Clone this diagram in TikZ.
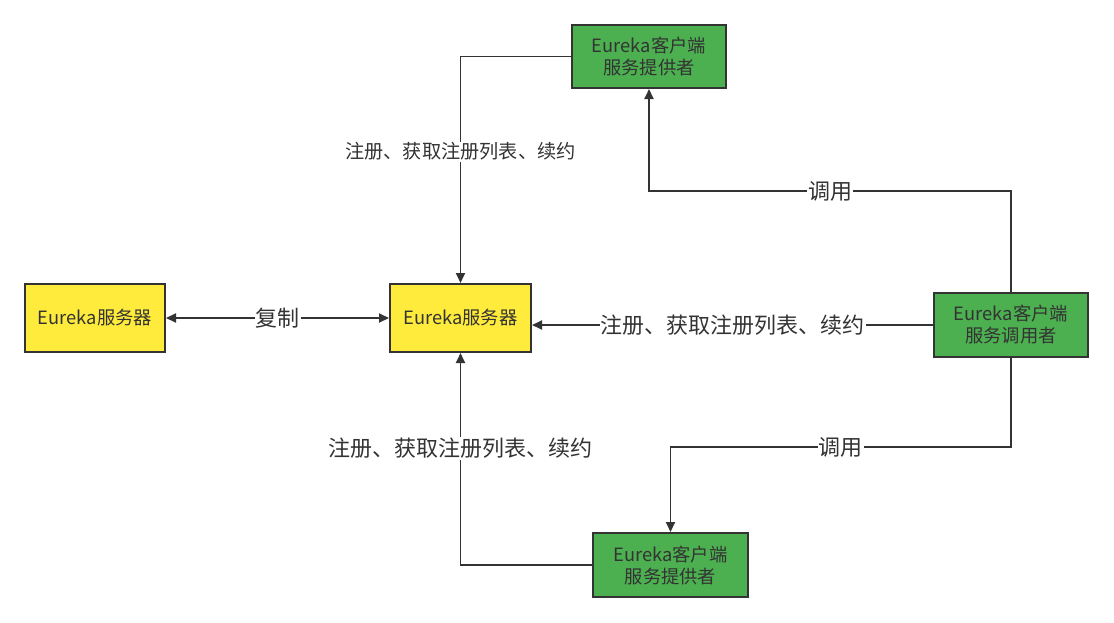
\documentclass[tikz,border=0pt]{standalone}
\usepackage{fontspec}
\setmainfont{Noto Sans CJK SC}
\usetikzlibrary{arrows.meta}
\definecolor{boxyellow}{HTML}{FFEB3B}
\definecolor{boxgreen}{HTML}{4CAF50}
\definecolor{ink}{HTML}{333333}

\begin{document}
\begin{tikzpicture}[x=1pt,y=-1pt,>={Triangle[length=10pt,width=9pt]},
  srvbox/.style={draw=ink,line width=2pt,fill=boxyellow,text=ink,minimum width=141pt,minimum height=68pt,font=\fontsize{18.3}{22}\selectfont},
  clibox/.style={draw=ink,line width=2pt,fill=boxgreen,text=ink,minimum width=154pt,minimum height=64pt,align=center,font=\fontsize{18.3}{22}\selectfont},
  link/.style={draw=ink,line width=1.8pt},
  lbl/.style={fill=white,text=ink,inner sep=1pt,font=\fontsize{22}{26}\selectfont},
  lblsmall/.style={fill=white,text=ink,inner sep=1pt,font=\fontsize{19.2}{23}\selectfont}]
  \useasboundingbox (0,0) rectangle (1114,622);
  % servers
  \node[srvbox,minimum width=140pt] (srvleft) at (95,318) {Eureka服务器};
  \node[srvbox] (srvmain) at (460.5,318) {Eureka服务器};
  % clients
  \node[clibox,minimum height=63pt] (provtop) at (649,56.5) {Eureka客户端\\服务提供者};
  \node[clibox] (consumer) at (1011,325) {Eureka客户端\\服务调用者};
  \node[clibox,minimum width=155pt] (provbot) at (670.5,565) {Eureka客户端\\服务提供者};
  % replication
  \draw[link,<->] (srvleft) -- node[lbl]{复制} (srvmain);
  % register / fetch / renew
  \draw[link,->] (provtop.west) -| node[lblsmall,pos=0.71]{注册、获取注册列表、续约} (srvmain.north);
  \draw[link,->] (consumer.west) -- node[lbl]{注册、获取注册列表、续约} (consumer.west -| srvmain.east);
  \draw[link,->] (provbot.west) -| node[lbl,pos=0.775]{注册、获取注册列表、续约} (srvmain.south);
  % calls
  \draw[link,->] (consumer.north) -- ++(0,-101) -| node[lbl,pos=0.25]{调用} (provtop.south);
  \draw[link,->] (consumer.south) -- ++(0,89) -| node[lbl,pos=0.25]{调用} (provbot.north);
\end{tikzpicture}
\end{document}
